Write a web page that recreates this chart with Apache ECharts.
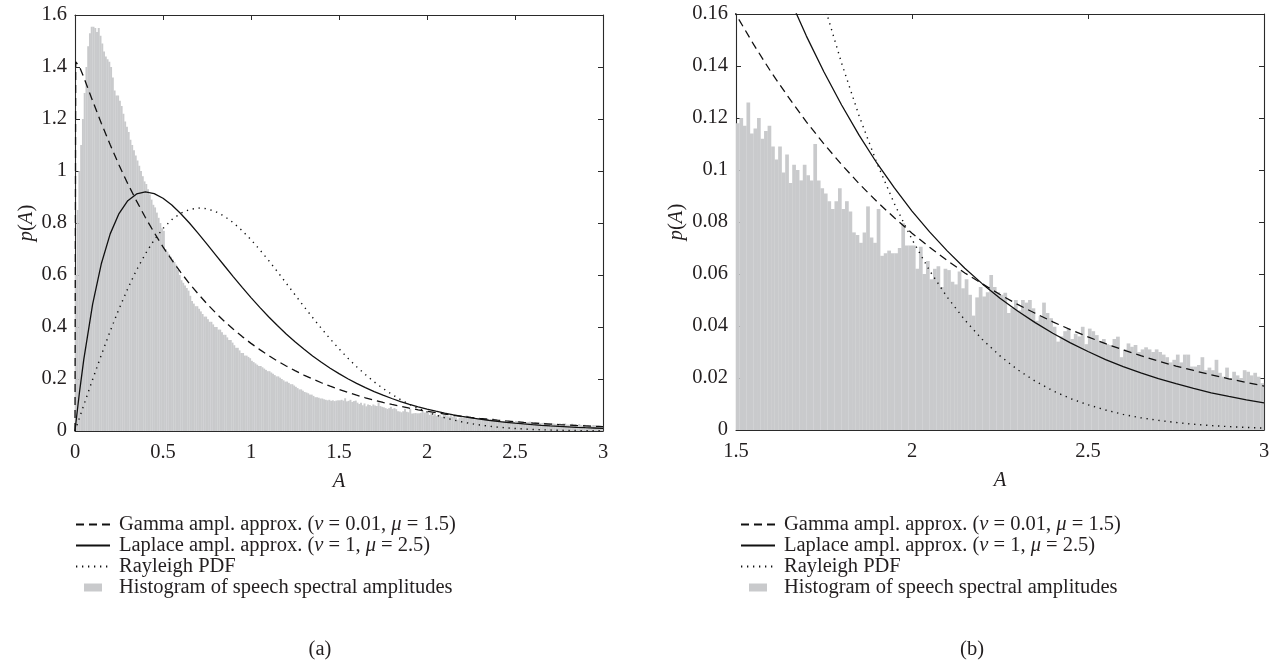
<!DOCTYPE html>
<html><head><meta charset="utf-8">
<script src="https://cdn.jsdelivr.net/npm/echarts@6/dist/echarts.min.js"></script>
<style>html,body{margin:0;padding:0;background:#fff}#c{width:1276px;height:670px}</style>
</head><body><div id="c"></div>
<script>
// ---------- data ----------
const curveA = [0, 0.004, 0.025,
  0.05, 0.1, 0.15, 0.2, 0.25, 0.3, 0.35, 0.4, 0.45, 0.5,
  0.55, 0.6, 0.65, 0.7, 0.75, 0.8, 0.85, 0.9, 0.95, 1.0,
  1.05, 1.1, 1.15, 1.2, 1.25, 1.3, 1.35, 1.4, 1.45, 1.5,
  1.55, 1.6, 1.65, 1.7, 1.75, 1.8, 1.85, 1.9, 1.95, 2.0,
  2.05, 2.1, 2.15, 2.2, 2.25, 2.3, 2.35, 2.4, 2.45, 2.5,
  2.55, 2.6, 2.65, 2.7, 2.75, 2.8, 2.85, 2.9, 2.95, 3.0];
const gammaVals = [0, 1.420, 1.402,
  1.360, 1.270, 1.183, 1.101, 1.023, 0.951, 0.884, 0.821, 0.763, 0.708,
  0.658, 0.611, 0.567, 0.527, 0.489, 0.454, 0.421, 0.391, 0.363, 0.337,
  0.313, 0.290, 0.269, 0.250, 0.232, 0.215, 0.200, 0.1855, 0.1722, 0.1598,
  0.1483, 0.1376, 0.1278, 0.1185, 0.1100, 0.1021, 0.0947, 0.0879, 0.0816, 0.0757,
  0.0703, 0.0652, 0.0604, 0.0562, 0.0521, 0.0483, 0.0449, 0.0416, 0.0386, 0.0358,
  0.0332, 0.0308, 0.0286, 0.0265, 0.0246, 0.0229, 0.0212, 0.0197, 0.0183, 0.0169];
const laplaceVals = [0, 0.0249, 0.1468,
  0.2758, 0.4868, 0.6443, 0.7582, 0.8364, 0.8857, 0.9119, 0.9197, 0.9131, 0.8953,
  0.869, 0.8367, 0.800, 0.7603, 0.719, 0.6767, 0.6345, 0.5929, 0.5522, 0.5130,
  0.4754, 0.4395, 0.4055, 0.3734, 0.3433, 0.3150, 0.2887, 0.2643, 0.2415, 0.2205,
  0.2010, 0.1832, 0.1667, 0.1515, 0.1377, 0.1250, 0.1133, 0.1027, 0.0931, 0.0842,
  0.0762, 0.0689, 0.0622, 0.0562, 0.0507, 0.0458, 0.0413, 0.0372, 0.0335, 0.0302,
  0.0271, 0.0244, 0.0220, 0.0198, 0.0178, 0.0160, 0.0143, 0.0129, 0.0116, 0.0104];
const rayleighVals = [0, 0.008, 0.050,
  0.0998, 0.198, 0.2933, 0.3843, 0.4697, 0.5483, 0.6193, 0.6817, 0.7350, 0.7788,
  0.8129, 0.8372, 0.8520, 0.8577, 0.8547, 0.8437, 0.8255, 0.8008, 0.7706, 0.7358,
  0.6972, 0.6561, 0.6130, 0.5686, 0.5240, 0.4797, 0.4363, 0.3945, 0.3541, 0.3162,
  0.2805, 0.2474, 0.2169, 0.1889, 0.1637, 0.1411, 0.1207, 0.1028, 0.0870, 0.0733,
  0.0613, 0.0511, 0.0423, 0.0348, 0.0285, 0.0232, 0.0188, 0.0151, 0.0121, 0.0097,
  0.0077, 0.0060, 0.0047, 0.0037, 0.0029, 0.0022, 0.0017, 0.0013, 0.0010, 0.0007];

const histBinWidth = 0.01;
// histogram heights, bins 0.00 .. 1.50
const histLow = [
  0.60, 0.85, 1.00, 1.10, 1.20, 1.30, 1.40, 1.48, 1.53, 1.555,
  1.555, 1.55, 1.535, 1.55, 1.52, 1.49, 1.46, 1.44, 1.43, 1.42,
  1.40, 1.36, 1.31, 1.29, 1.29, 1.27, 1.25, 1.22, 1.19, 1.17,
  1.15, 1.12, 1.10, 1.08, 1.06, 1.04, 1.02, 1.00, 0.98, 0.96,
  0.95, 0.93, 0.91, 0.89, 0.87, 0.86, 0.84, 0.82, 0.80, 0.78,
  0.77, 0.70, 0.69, 0.68, 0.67, 0.66, 0.65, 0.64, 0.62, 0.60,
  0.58, 0.57, 0.56, 0.55, 0.54, 0.52, 0.50, 0.49, 0.48, 0.48,
  0.47, 0.46, 0.45, 0.44, 0.44, 0.43, 0.42, 0.42, 0.41, 0.40,
  0.40, 0.39, 0.39, 0.38, 0.37, 0.37, 0.36, 0.35, 0.35, 0.34,
  0.33, 0.32, 0.32, 0.31, 0.30, 0.30, 0.29, 0.29, 0.285, 0.28,
  0.27, 0.265, 0.26, 0.255, 0.25, 0.25, 0.245, 0.24, 0.235, 0.23,
  0.23, 0.225, 0.22, 0.215, 0.21, 0.21, 0.205, 0.20, 0.195, 0.19,
  0.19, 0.185, 0.18, 0.18, 0.175, 0.17, 0.165, 0.16, 0.16, 0.155,
  0.15, 0.148, 0.145, 0.14, 0.14, 0.135, 0.13, 0.13, 0.128, 0.125,
  0.125, 0.122, 0.12, 0.118, 0.12, 0.116, 0.118, 0.115, 0.117, 0.118];
// histogram heights, bins 1.50 .. 3.00
const histHigh = [
  0.118, 0.120, 0.117, 0.126, 0.114, 0.116, 0.120, 0.112, 0.115, 0.117,
  0.109, 0.104, 0.109, 0.099, 0.106, 0.095, 0.102, 0.100, 0.096, 0.102,
  0.098, 0.096, 0.110, 0.096, 0.093, 0.091, 0.088, 0.085, 0.088, 0.093,
  0.085, 0.088, 0.084, 0.076, 0.075, 0.072, 0.076, 0.086, 0.074, 0.072,
  0.085, 0.067, 0.068, 0.069, 0.068, 0.068, 0.070, 0.0795, 0.071, 0.071,
  0.071, 0.062, 0.0705, 0.060, 0.065, 0.058, 0.062, 0.063, 0.055, 0.062,
  0.0615, 0.057, 0.056, 0.061, 0.0545, 0.058, 0.052, 0.044, 0.051, 0.055,
  0.0513, 0.053, 0.0596, 0.055, 0.053, 0.052, 0.0528, 0.045, 0.047, 0.050,
  0.046, 0.050, 0.049, 0.050, 0.0468, 0.042, 0.0438, 0.049, 0.045, 0.043,
  0.0397, 0.034, 0.036, 0.038, 0.039, 0.035, 0.037, 0.036, 0.0397, 0.033,
  0.039, 0.038, 0.0365, 0.034, 0.035, 0.033, 0.0327, 0.035, 0.0359, 0.028,
  0.031, 0.0333, 0.032, 0.0327, 0.030, 0.031, 0.0318, 0.031, 0.030, 0.031,
  0.030, 0.029, 0.028, 0.026, 0.027, 0.029, 0.026, 0.029, 0.029, 0.0244,
  0.0244, 0.025, 0.028, 0.023, 0.024, 0.023, 0.027, 0.022, 0.0205, 0.024,
  0.020, 0.0224, 0.021, 0.020, 0.023, 0.0224, 0.021, 0.022, 0.0205, 0.018];

const seriesNames = [
  'Gamma ampl. approx.',
  'Laplace ampl. approx.',
  'Rayleigh PDF',
  'Histogram of speech spectral amplitudes'];
const legendLabels = {
  'Gamma ampl. approx.': '{n|Gamma ampl. approx. (}{i|ν}{n| = 0.01, }{i|μ}{n| = 1.5)}',
  'Laplace ampl. approx.': '{n|Laplace ampl. approx. (}{i|ν}{n| = 1, }{i|μ}{n| = 2.5)}',
  'Rayleigh PDF': '{n|Rayleigh PDF}',
  'Histogram of speech spectral amplitudes': '{n|Histogram of speech spectral amplitudes}'
};
const captions = ['(a)', '(b)'];

// ---------- build ----------
const FONT = '"Liberation Serif", "DejaVu Serif", serif';
const FS = 20.5;
const TXT = '#231f20';
const AX = '#2a2a2a';
const GRAY = '#c9cacc';

const histAll = histLow.concat(histHigh);
const histPairs = histAll.map((v, i) => [+(i * histBinWidth + histBinWidth / 2).toFixed(3), v]);
const histPairsRight = histPairs.slice(histLow.length);
const gammaPairs = curveA.map((a, i) => [a, gammaVals[i]]);
const laplacePairs = curveA.map((a, i) => [a, laplaceVals[i]]);
const rayleighPairs = curveA.map((a, i) => [a, rayleighVals[i]]);

const nameStyle = { fontFamily: FONT, fontSize: FS, color: TXT,
  rich: { i: { fontFamily: FONT, fontSize: FS, fontStyle: 'italic', color: TXT },
          n: { fontFamily: FONT, fontSize: FS, color: TXT } } };

function xAxis(grid, min, max, interval, pos, labels) {
  return {
    type: 'value', gridIndex: grid, min: min, max: max, interval: interval, position: pos,
    axisLine: { show: true, onZero: false, lineStyle: { color: AX, width: 1.1 } },
    axisTick: { show: true, inside: true, length: 5, lineStyle: { color: AX, width: 1 } },
    axisLabel: { show: labels, fontFamily: FONT, fontSize: FS, color: TXT, margin: 11 },
    splitLine: { show: false },
    name: labels ? '{i|A}' : '', nameLocation: 'middle', nameGap: 41, nameTextStyle: nameStyle
  };
}
function yAxis(grid, min, max, interval, pos, labels, gap) {
  return {
    type: 'value', gridIndex: grid, min: min, max: max, interval: interval, position: pos,
    axisLine: { show: true, onZero: false, lineStyle: { color: AX, width: 1.1 } },
    axisTick: { show: true, inside: true, length: 5, lineStyle: { color: AX, width: 1 } },
    axisLabel: { show: labels, fontFamily: FONT, fontSize: FS, color: TXT, margin: 8 },
    splitLine: { show: false },
    name: labels ? '{i|p}{n|(}{i|A}{n|)}' : '', nameLocation: 'middle', nameGap: gap,
    nameTextStyle: nameStyle
  };
}

const lineStyles = [
  { color: '#111', width: 1.3, type: [8, 5] },
  { color: '#111', width: 1.3, type: 'solid' },
  { color: '#111', width: 1.4, type: [1.3, 4.7] }
];
const curvePairs = [gammaPairs, laplacePairs, rayleighPairs];

function panelSeries(xi, yi, hist) {
  const s = [{
    type: 'bar', name: seriesNames[3], xAxisIndex: xi, yAxisIndex: yi,
    data: hist, barWidth: xi === 0 ? 1.95 : 3.7, itemStyle: { color: GRAY },
    z: 1, silent: true, animation: false, clip: true
  }];
  for (let k = 0; k < 3; k++) {
    s.push({
      type: 'line', name: seriesNames[k], xAxisIndex: xi, yAxisIndex: yi,
      data: curvePairs[k], symbol: 'none', showSymbol: false,
      lineStyle: lineStyles[k], itemStyle: { color: '#111' },
      z: 3, silent: true, animation: false, clip: true
    });
  }
  return s;
}

function legend(left) {
  return {
    orient: 'vertical', left: left, top: 514, padding: 0,
    itemWidth: 34, itemHeight: 12, itemGap: 0,
    selectedMode: false,
    data: [
      { name: seriesNames[0], itemStyle: { opacity: 0 } },
      { name: seriesNames[1], itemStyle: { opacity: 0 } },
      { name: seriesNames[2], itemStyle: { opacity: 0 } },
      { name: seriesNames[3], icon: 'path://M0,0M34,12M8,2L26,2L26,10L8,10Z' }],
    formatter: function (name) { return legendLabels[name]; },
    textStyle: { fontFamily: FONT, fontSize: FS, color: TXT, lineHeight: 20, padding: [0, 0, 0, 4],
      rich: { n: { fontFamily: FONT, fontSize: FS, color: TXT, lineHeight: 20 },
              i: { fontFamily: FONT, fontSize: FS, fontStyle: 'italic', color: TXT, lineHeight: 20 } } }
  };
}

const option = {
  backgroundColor: '#fff',
  animation: false,
  grid: [
    { left: 75, top: 15, width: 528, height: 416 },
    { left: 736, top: 14, width: 528, height: 416 }
  ],
  xAxis: [
    xAxis(0, 0, 3, 0.5, 'bottom', true),
    xAxis(0, 0, 3, 0.5, 'top', false),
    xAxis(1, 1.5, 3, 0.5, 'bottom', true),
    xAxis(1, 1.5, 3, 0.5, 'top', false)
  ],
  yAxis: [
    yAxis(0, 0, 1.6, 0.2, 'left', true, 37),
    yAxis(0, 0, 1.6, 0.2, 'right', false, 0),
    yAxis(1, 0, 0.16, 0.02, 'left', true, 49),
    yAxis(1, 0, 0.16, 0.02, 'right', false, 0)
  ],
  legend: [legend(75), legend(740)],
  graphic: [
    { type: 'text', x: 320, y: 650, style: { text: captions[0], font: FS + 'px "Liberation Serif"', fill: TXT, align: 'center', verticalAlign: 'middle' } },
    { type: 'text', x: 972, y: 650, style: { text: captions[1], font: FS + 'px "Liberation Serif"', fill: TXT, align: 'center', verticalAlign: 'middle' } }
  ],
  series: panelSeries(0, 0, histPairs).concat(panelSeries(2, 2, histPairsRight))
};

const chart = echarts.init(document.getElementById('c'), null, { renderer: 'canvas' });
chart.setOption(option);
</script>
</body></html>
